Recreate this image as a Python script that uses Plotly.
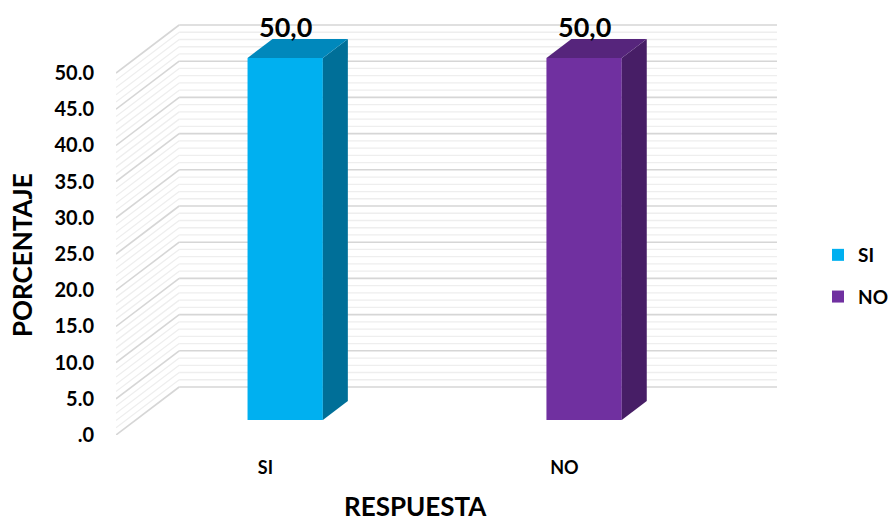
import plotly.graph_objects as go

categories = ["SI", "NO"]
values = [50.0, 50.0]
front_colors = ["#00B0F0", "#7030A0"]
side_colors = ["#006F98", "#471E66"]
top_colors = ["#0088BC", "#56257C"]
y_ticks = [0, 5, 10, 15, 20, 25, 30, 35, 40, 45, 50]
y_ticktext = [".0" if t == 0 else f"{t:.1f}" for t in y_ticks]

# 3D projection parameters (axis units)
DX = 0.2114      # full depth, x units
DY = 6.63        # full depth, y units
F0, F1 = 0.3125, 0.708   # bar front/back depth fractions
BW = 0.252       # bar width

FONT = "Lato, 'Open Sans', sans-serif"

fig = go.Figure()
shapes = []

# perspective gridlines: side wall diagonals and back wall horizontals
for v in range(0, 51):
    major = v % 5 == 0
    col = "#D6D6D6" if major else "#EEEEEE"
    w = 1.6 if major else 1.3
    shapes.append(dict(type="line", xref="x", yref="y", layer="below",
                       x0=-0.5, y0=v, x1=-0.5 + DX, y1=v + DY,
                       line=dict(color=col, width=w)))
    shapes.append(dict(type="line", xref="x", yref="y", layer="below",
                       x0=-0.5 + DX, y0=v + DY, x1=1.5 + DX, y1=v + DY,
                       line=dict(color=col, width=w)))

for i, (cat, v) in enumerate(zip(categories, values)):
    xc = i + F0 * DX
    base = F0 * DY
    fig.add_trace(go.Bar(x=[xc], y=[v], base=[base], width=BW, name=cat,
                         legendgroup=f"g{i}",
                         marker=dict(color=front_colors[i], line=dict(width=0)),
                         hoverinfo="skip"))
    xl, xr = xc - BW / 2, xc + BW / 2
    ddx = (F1 - F0) * DX
    ddy = (F1 - F0) * DY
    top = v + base
    # side face
    shapes.append(dict(type="path", xref="x", yref="y", layer="above",
                       path=f"M {xr},{base} L {xr},{top} L {xr+ddx},{top+ddy} L {xr+ddx},{base+ddy} Z",
                       fillcolor=side_colors[i], line=dict(width=0)))
    # top face
    shapes.append(dict(type="path", xref="x", yref="y", layer="above",
                       path=f"M {xl},{top} L {xr},{top} L {xr+ddx},{top+ddy} L {xl+ddx},{top+ddy} Z",
                       fillcolor=top_colors[i], line=dict(width=0)))
    fig.add_annotation(x=xc, y=top + ddy, xref="x", yref="y",
                       text=f"{v:.1f}".replace(".", ","), showarrow=False,
                       yanchor="bottom", yshift=-6,
                       font=dict(family=FONT, size=27, color="#000000", weight="bold"))

fig.add_annotation(text="PORCENTAJE", xref="paper", yref="paper",
                   x=(22 - 116) / 661, y=(435 - 255) / 411, textangle=-90,
                   showarrow=False, xanchor="center", yanchor="middle",
                   font=dict(family=FONT, size=26, color="#000000", weight="bold"))
fig.add_annotation(text="RESPUESTA", xref="paper", yref="paper",
                   x=(415 - 116) / 661, y=(435 - 506) / 411,
                   showarrow=False, xanchor="center", yanchor="middle",
                   font=dict(family=FONT, size=26, color="#000000", weight="bold"))

fig.update_layout(
    width=889, height=523,
    margin=dict(l=116, r=112, t=24, b=88),
    paper_bgcolor="white", plot_bgcolor="white",
    barmode="overlay",
    shapes=shapes,
    showlegend=True,
    legend=dict(xref="container", yref="container",
                x=818 / 889, y=1 - 236 / 523, xanchor="left", yanchor="top",
                font=dict(family=FONT, size=19, color="#000000", weight="bold"),
                tracegroupgap=14, traceorder="grouped", bgcolor="rgba(0,0,0,0)"),
    xaxis=dict(range=[-0.5, 1.5 + DX], tickmode="array", tickvals=[0, 1],
               ticktext=categories, showgrid=False, zeroline=False, showline=False,
               ticks="", ticklabelstandoff=20,
               tickfont=dict(family=FONT, size=18, color="#000000", weight="bold"),
               fixedrange=True),
    yaxis=dict(range=[0, 56.77], tickmode="array", tickvals=y_ticks, ticktext=y_ticktext,
               showgrid=False, zeroline=False, showline=False, ticks="",
               ticklabelstandoff=21,
               tickfont=dict(family=FONT, size=20, color="#000000", weight="bold"),
               fixedrange=True),
)

fig.write_html("out.html")
